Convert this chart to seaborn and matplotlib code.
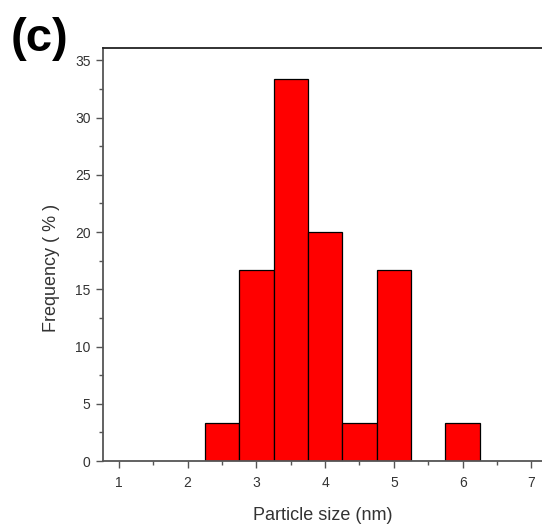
import matplotlib
matplotlib.use("Agg")
import matplotlib.pyplot as plt
from matplotlib.ticker import MultipleLocator
from matplotlib import font_manager
import seaborn as sns

# Particle size distribution (percent of particles per 0.5 nm bin)
bin_centers = [2.5, 3.0, 3.5, 4.0, 4.5, 5.0, 6.0]
frequency_pct = [3.33, 16.67, 33.33, 20.0, 3.33, 16.67, 3.33]
bin_edges = [2.25, 2.75, 3.25, 3.75, 4.25, 4.75, 5.25, 5.75, 6.25]
x_ticks = [1, 2, 3, 4, 5, 6, 7]
y_ticks = [0, 5, 10, 15, 20, 25, 30, 35]

sns.set_style("white")
names = {f.name for f in font_manager.fontManager.ttflist}
narrow = "Liberation Sans Narrow" if "Liberation Sans Narrow" in names else "Liberation Sans"
plt.rcParams["font.family"] = [narrow, "DejaVu Sans"]

fig = plt.figure(figsize=(5.42, 5.30), dpi=100)
ax = fig.add_axes([0.190, 0.130, 0.812, 0.779])

sns.histplot(x=bin_centers, weights=frequency_pct, bins=bin_edges,
             color="#ff0000", alpha=1.0, edgecolor="black", linewidth=0.9, ax=ax)

ax.set_xlim(0.77, 7.17)
ax.set_ylim(0, 36.05)
ax.set_xticks(x_ticks)
ax.set_yticks(y_ticks)
ax.xaxis.set_minor_locator(MultipleLocator(0.5))
ax.yaxis.set_minor_locator(MultipleLocator(2.5))
ax.tick_params(axis="both", which="major", direction="out", length=5, width=1,
               color="#555555", labelsize=10, labelcolor="#333333",
               bottom=True, left=True, pad=4)
ax.tick_params(axis="both", which="minor", direction="out", length=3, width=1,
               color="#555555", bottom=True, left=True)
ax.tick_params(axis="x", which="major", pad=6)

for side in ["left", "bottom", "top"]:
    ax.spines[side].set_visible(True)
    ax.spines[side].set_color("#555555")
    ax.spines[side].set_linewidth(1.3)
ax.spines["top"].set_color("#222222")
ax.spines["right"].set_visible(False)

ax.set_xlabel("Particle size (nm)", fontsize=13, color="#333333", labelpad=12)
ax.set_ylabel("Frequency ( % )", fontsize=13, color="#333333")
ax.yaxis.label.set_va("center")
ax.yaxis.set_label_coords(-0.116, 0.467)

fig.text(0.02, 0.968, "(c)", fontsize=34, fontweight="bold",
         va="top", ha="left", color="black")

fig.savefig("out.png", dpi=100)
